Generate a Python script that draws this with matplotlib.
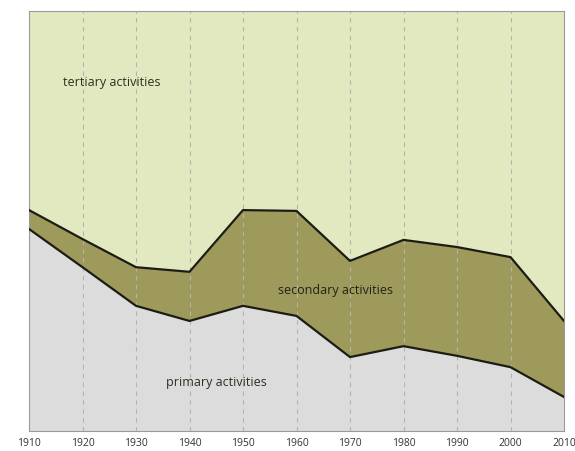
import matplotlib
matplotlib.use("Agg")
import matplotlib.pyplot as plt
import numpy as np

# shares of the workforce (%)
years = [1910, 1920, 1930, 1940, 1950, 1960, 1970, 1980, 1990, 2000, 2010]
primary = [48.1, 39.0, 29.8, 26.2, 29.8, 27.4, 17.6, 20.2, 17.9, 15.2, 8.1]
secondary_top = [52.6, 45.7, 39.0, 37.9, 52.6, 52.4, 40.5, 45.5, 43.8, 41.4, 26.2]

plt.rcParams["font.family"] = ["Open Sans", "DejaVu Sans"]

fig = plt.figure(figsize=(5.75, 4.52), dpi=100)
ax = fig.add_axes([29 / 575, 1 - 432 / 452, 535 / 575, 420 / 452])

x = np.array(years)
ax.fill_between(x, 0, primary, color="#dcdcdc", lw=0)
ax.fill_between(x, primary, secondary_top, color="#9d9a5c", lw=0)
ax.fill_between(x, secondary_top, 100, color="#e2e8bf", lw=0)

for yr in years[1:-1]:
    ax.axvline(yr, color="#b4b4aa", lw=0.8, ls=(0, (4, 4)), zorder=1)

ax.plot(x, primary, color="#1c1c14", lw=1.6, zorder=3)
ax.plot(x, secondary_top, color="#1c1c14", lw=1.6, zorder=3)

ax.text(1916.4, 83.3, "tertiary activities", fontsize=9, color="#2e2e22",
        va="center", fontweight="medium")
ax.text(1967.2, 33.8, "secondary activities", fontsize=9, color="#22221a",
        ha="center", va="center", fontweight="medium")
ax.text(1945.1, 11.7, "primary activities", fontsize=9, color="#2e2e22",
        ha="center", va="center", fontweight="medium")

ax.set_xlim(1910, 2010)
ax.set_ylim(0, 100)
ax.set_xticks(years)
ax.set_xticklabels([str(y) for y in years], fontsize=7.5, color="#333333")
ax.tick_params(axis="x", length=0, pad=4)
ax.get_xticklabels()[0].set_x(1908.2)
ax.set_yticks([])
for s in ax.spines.values():
    s.set_color("#9a9a9a")
    s.set_linewidth(0.8)

fig.savefig("out.png", dpi=100)
